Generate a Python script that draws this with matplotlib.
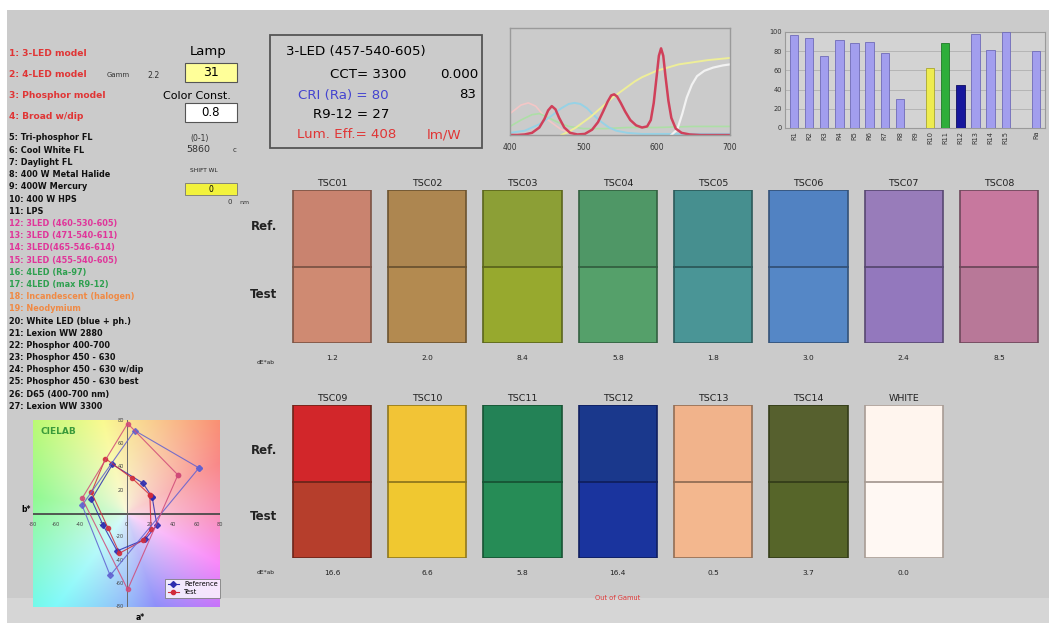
import numpy as np
import matplotlib
matplotlib.use("Agg")
import matplotlib.pyplot as plt
from matplotlib.patches import Rectangle
from matplotlib.lines import Line2D
from matplotlib.colors import hsv_to_rgb

plt.rcParams['font.family'] = ['DejaVu Sans']

W, H = 1049, 623

# ---------------- data ----------------
lamp_items = ["1: 3-LED model", "2: 4-LED model", "3: Phosphor model", "4: Broad w/dip",
              "5: Tri-phosphor FL", "6: Cool White FL", "7: Daylight FL", "8: 400 W Metal Halide",
              "9: 400W Mercury", "10: 400 W HPS", "11: LPS", "12: 3LED (460-530-605)",
              "13: 3LED (471-540-611)", "14: 3LED(465-546-614)", "15: 3LED (455-540-605)",
              "16: 4LED (Ra-97)", "17: 4LED (max R9-12)", "18: Incandescent (halogen)",
              "19: Neodymium", "20: White LED (blue + ph.)", "21: Lexion WW 2880",
              "22: Phosphor 400-700", "23: Phosphor 450 - 630", "24: Phosphor 450 - 630 w/dip",
              "25: Phosphor 450 - 630 best", "26: D65 (400-700 nm)", "27: Lexion WW 3300"]
lamp_groups = ["model"] * 4 + ["std"] * 7 + ["3led"] * 4 + ["4led"] * 2 + ["inc"] * 2 + ["std"] * 8

# spectrum (relative power)
wl_test = [400, 410, 420, 430, 440, 447, 452, 457, 462, 467, 474, 482, 492, 502, 512, 520, 527, 533,
           538, 542, 546, 551, 557, 564, 572, 580, 587, 592, 596, 600, 603, 606, 609, 612, 616, 620,
           626, 634, 645, 660, 680, 700]
spd_test = [0.0, 0.0, 0.005, 0.02, 0.07, 0.15, 0.23, 0.27, 0.24, 0.16, 0.07, 0.02, 0.005, 0.01, 0.05,
            0.12, 0.22, 0.31, 0.37, 0.38, 0.36, 0.30, 0.22, 0.14, 0.09, 0.07, 0.08, 0.14, 0.30, 0.55,
            0.74, 0.81, 0.74, 0.55, 0.32, 0.16, 0.06, 0.02, 0.005, 0.0, 0.0, 0.0]
wl_cyan = [400, 420, 440, 455, 470, 480, 488, 496, 505, 515, 525, 535, 545, 560, 580, 620, 700]
val_cyan = [0.02, 0.04, 0.10, 0.17, 0.25, 0.29, 0.30, 0.29, 0.25, 0.18, 0.12, 0.07, 0.04, 0.02, 0.01, 0.01, 0.01]
wl_green = [400, 415, 430, 440, 450, 465, 480, 500, 530, 560, 600, 650, 700]
val_green = [0.08, 0.14, 0.19, 0.20, 0.17, 0.12, 0.08, 0.06, 0.06, 0.07, 0.07, 0.08, 0.08]
wl_pink = [400, 415, 425, 435, 450, 470, 490]
val_pink = [0.20, 0.28, 0.30, 0.27, 0.15, 0.05, 0.0]
wl_yellow = [470, 480, 490, 500, 510, 520, 530, 540, 550, 560, 570, 580, 590, 600, 615, 630, 650, 670, 700]
val_yellow = [0.0, 0.03, 0.07, 0.12, 0.17, 0.23, 0.29, 0.35, 0.40, 0.45, 0.50, 0.54, 0.57, 0.60, 0.63,
              0.66, 0.68, 0.70, 0.72]
wl_white = [620, 628, 635, 641, 648, 655, 665, 677, 690, 700]
val_white = [0.0, 0.05, 0.20, 0.35, 0.47, 0.55, 0.60, 0.63, 0.65, 0.66]

# special CRI values
r_labels = ["R1", "R2", "R3", "R4", "R5", "R6", "R7", "R8", "R9", "R10", "R11", "R12", "R13", "R14", "R15", "Ra"]
r_values = [97, 94, 75, 92, 89, 90, 78, 30, 0, 63, 89, 45, 98, 81, 100, 80]
r_colors = ["#a29eee"] * 9 + ["#eeec50", "#2eae3a", "#16169c"] + ["#a29eee"] * 4

# test colour samples
tsc_row1 = ["TSC01", "TSC02", "TSC03", "TSC04", "TSC05", "TSC06", "TSC07", "TSC08"]
ref_row1 = ["#c9836f", "#ad8650", "#8c9f36", "#4f9766", "#468f8f", "#5182c2", "#987cba", "#c7789e"]
test_row1 = ["#cf8a72", "#b38a50", "#97a92e", "#55a06a", "#4a9596", "#5587c6", "#9378bd", "#b87898"]
de_row1 = ["1.2", "2.0", "8.4", "5.8", "1.8", "3.0", "2.4", "8.5"]
tsc_row2 = ["TSC09", "TSC10", "TSC11", "TSC12", "TSC13", "TSC14", "WHITE"]
ref_row2 = ["#d2262a", "#f2c436", "#238256", "#1a388c", "#f1b38b", "#56602e", "#fff5ee"]
test_row2 = ["#b63e2c", "#f0c830", "#268c56", "#1a349e", "#f3b78e", "#566529", "#fff8f3"]
de_row2 = ["16.6", "6.6", "5.8", "16.4", "0.5", "3.7", "0.0"]

# CIELAB a*, b* (TSC01-08 loop, TSC09-12 loop)
ref_a_in = [22, 14, -12, -30, -20, -8, 16, 26]
ref_b_in = [14, 26, 42, 12, -10, -32, -22, -10]
test_a_in = [20, 5, -18, -30, -16, -6, 14, 21]
test_b_in = [16, 30, 47, 18, -12, -34, -23, -13]
ref_a_out = [62, 7, -38, -14]
ref_b_out = [39, 71, 7, -53]
test_a_out = [44, 1, -38, 1]
test_b_out = [33, 77, 13, -65]

# ---------------- figure ----------------
fig = plt.figure(figsize=(W / 100, H / 100), dpi=100, facecolor="white")


def px_axes(x0, y0, x1, y1, **kw):
    return fig.add_axes([x0 / W, 1 - y1 / H, (x1 - x0) / W, (y1 - y0) / H], **kw)


bg = px_axes(0, 0, W, H)
bg.set_xlim(0, W)
bg.set_ylim(H, 0)
bg.axis("off")
bg.add_patch(Rectangle((7, 10), W - 7, H - 10, facecolor="#cbcbcb", edgecolor="none"))
bg.add_patch(Rectangle((7, 598), W - 7, H - 598, facecolor="#d6d6d6", edgecolor="none"))

# lamp list
group_col = {"model": "#e03535", "std": "#111111", "3led": "#e0359a", "4led": "#2fa050", "inc": "#f08a45"}
for i, (name, grp) in enumerate(zip(lamp_items, lamp_groups)):
    if i < 4:
        y = 53 + i * 21.3
        fs = 6.6
    else:
        y = 138 + (i - 4) * 12.2
        fs = 5.9
    bg.text(9, y, name, color=group_col[grp], fontsize=fs, fontweight="bold", va="center", ha="left")
bg.text(107, 75, "Gamm", fontsize=5.0, color="#333333", va="center")
bg.text(147, 75, "2.2", fontsize=5.6, color="#333333", va="center")

bg.text(208, 51, "Lamp", fontsize=9.5, va="center", ha="center")
bg.add_patch(Rectangle((185, 63), 52, 19, facecolor="#ffff99", edgecolor="#555555", lw=0.8))
bg.text(211, 73, "31", fontsize=9, va="center", ha="center")
bg.text(197, 96, "Color Const.", fontsize=8, va="center", ha="center")
bg.add_patch(Rectangle((185, 103), 52, 19, facecolor="white", edgecolor="#555555", lw=0.8))
bg.text(211, 113, "0.8", fontsize=8.5, va="center", ha="center")
bg.text(200, 138, "(0-1)", fontsize=5.5, color="#333333", va="center", ha="center")
bg.text(198, 149, "5860", fontsize=6.8, color="#333333", va="center", ha="center")
bg.text(235, 150, "c", fontsize=5, color="#333333", va="center", ha="center")
bg.text(204, 170, "SHIFT WL", fontsize=4.2, color="#222222", va="center", ha="center")
bg.add_patch(Rectangle((185, 183), 52, 12, facecolor="#f2f23c", edgecolor="#777777", lw=0.6))
bg.text(211, 189, "0", fontsize=5.5, va="center", ha="center")
bg.text(230, 202, "0", fontsize=5, va="center", ha="center", color="#333333")
bg.text(239, 202, "nm", fontsize=4.5, va="center", ha="left", color="#333333")

# info box
bg.add_patch(Rectangle((270, 35), 212, 113, facecolor="none", edgecolor="#555555", lw=1.3))
fs_info = 9.6
bg.text(286, 52, "3-LED (457-540-605)", fontsize=fs_info, va="center")
bg.text(330, 74, "CCT= 3300", fontsize=fs_info, va="center")
bg.text(478, 74, "0.000", fontsize=fs_info, va="center", ha="right")
bg.text(298, 95, "CRI (Ra) = 80", fontsize=fs_info, va="center", color="#4444d0")
bg.text(476, 95, "83", fontsize=fs_info, va="center", ha="right")
bg.text(313, 114, "R9-12 = 27", fontsize=fs_info, va="center")
bg.text(297, 135, "Lum. Eff.= 408", fontsize=fs_info, va="center", color="#e03535")
bg.text(427, 135, "lm/W", fontsize=fs_info, va="center", color="#e03535")

# ---------------- spectrum ----------------
sp = px_axes(510, 28, 730, 135)
sp.set_facecolor("none")
sp.plot(wl_pink, val_pink, color="#f3c6c6", lw=1.2)
sp.plot(wl_green, val_green, color="#addfa6", lw=1.2)
sp.plot(wl_cyan, val_cyan, color="#96d2e6", lw=1.4)
sp.plot(wl_yellow, val_yellow, color="#eeee98", lw=1.4)
sp.plot(wl_white, val_white, color="#f2f2f2", lw=1.6)
sp.plot(wl_test, spd_test, color="#d0405a", lw=1.8)
sp.set_xlim(400, 700)
sp.set_ylim(0, 1)
sp.set_xticks([400, 500, 600, 700])
sp.set_yticks([])
sp.tick_params(axis="x", labelsize=5.5, length=0, pad=6, colors="#333333")
for s in sp.spines.values():
    s.set_color("#9a9a9a")
    s.set_linewidth(1.0)

# ---------------- CRI bars ----------------
bx = px_axes(785, 32, 1045, 128)
bx.set_facecolor("#d3d3d3")
xpos = list(range(15)) + [16]
bx.bar(xpos, r_values, width=0.55, color=r_colors,
       edgecolor=["#6f6bb8"] * 9 + ["#a8a630", "#1d7a26", "#0c0c60"] + ["#6f6bb8"] * 4, lw=0.6, zorder=3)
bx.set_xlim(-0.6, 16.6)
bx.set_ylim(0, 100)
bx.set_yticks(range(0, 101, 20))
bx.set_xticks(xpos)
bx.set_xticklabels(r_labels, rotation=90)
bx.tick_params(labelsize=4.8, length=0, pad=2, colors="#333333")
bx.grid(axis="y", color="#b0b0b0", lw=0.6, zorder=0)
for s in bx.spines.values():
    s.set_color("#9a9a9a")
    s.set_linewidth(0.8)

# ---------------- swatches ----------------
def draw_row(y0, y1, names, refs, tests, des):
    ax = px_axes(284.3, y0, 1046.7, y1)
    ax.set_xlim(-0.5, 7.5)
    ax.set_ylim(0, 2)
    ax.axis("off")
    w = 0.82
    for i, (nm, rc, tc, d) in enumerate(zip(names, refs, tests, des)):
        edge = tuple(0.6 * np.array(matplotlib.colors.to_rgb(tc)))
        if nm == "WHITE":
            edge = "#a89c94"
        ax.add_patch(Rectangle((i - w / 2, 1), w, 1, facecolor=rc, edgecolor="none"))
        ax.add_patch(Rectangle((i - w / 2, 0), w, 1, facecolor=tc, edgecolor="none"))
        ax.add_patch(Rectangle((i - w / 2, 0), w, 2, facecolor="none", edgecolor=edge, lw=1.2))
        ax.plot([i - w / 2, i + w / 2], [1, 1], color=edge, lw=1.3)
        ax.text(i, 2.03, nm, ha="center", va="bottom", fontsize=6.8, color="#222222")
        ax.text(i, -0.2, d, ha="center", va="center", fontsize=5.3, color="#222222")
    return ax


draw_row(190, 343, tsc_row1, ref_row1, test_row1, de_row1)
draw_row(405, 558, tsc_row2, ref_row2, test_row2, de_row2)
for yr, yt, yd in [(227, 295, 362), (450, 517, 572)]:
    bg.text(264, yr, "Ref.", fontsize=8.5, fontweight="bold", ha="center", va="center", color="#222222")
    bg.text(264, yt, "Test", fontsize=8.5, fontweight="bold", ha="center", va="center", color="#222222")
    bg.text(266, yd, "dE*ab", fontsize=4.3, ha="center", va="center", color="#222222")
bg.text(618, 598, "Out of Gamut", fontsize=4.8, ha="center", va="center", color="#e03535")

# ---------------- CIELAB ----------------
lab = px_axes(33, 420, 220, 607)
n = 240
aa, bb = np.meshgrid(np.linspace(-80, 80, n), np.linspace(80, -80, n))
ang = np.degrees(np.arctan2(bb, aa)) % 360
hue = np.interp(ang, [0, 90, 180, 270, 360], [0.94, 1.13, 1.36, 1.60, 1.94]) % 1.0
rad = np.hypot(aa, bb)
sat = np.clip(0.12 + rad / 113 * 0.42, 0, 0.6)
val = np.full_like(aa, 0.98)
rgb = hsv_to_rgb(np.stack([hue, sat, val], axis=-1))
lab.imshow(rgb, extent=(-80, 80, -80, 80), aspect="auto", zorder=0)
lab.set_xlim(-80, 80)
lab.set_ylim(-80, 80)
lab.axis("off")
lab.axhline(0, color="#4a4a4a", lw=1.3, zorder=1)
lab.axvline(0, color="#6a6a6a", lw=0.7, zorder=1)
for t in range(-80, 81, 20):
    lab.text(t, -9, str(t), fontsize=3.6, ha="center", va="center", color="#444444", zorder=2)
    if t != 0:
        lab.text(-2, t, str(t), fontsize=3.6, ha="right", va="center", color="#444444", zorder=2)
lab.text(-74, 70, "CIELAB", fontsize=6.5, color="#3a9a3a", fontweight="bold", va="center", zorder=2)


def loop(xs, ys):
    return list(xs) + [xs[0]], list(ys) + [ys[0]]


for (ax_, ay_), col, mk in [((ref_a_in, ref_b_in), "#2c2cb0", "D"), ((test_a_in, test_b_in), "#d02c3c", "o")]:
    xl, yl = loop(ax_, ay_)
    lab.plot(xl, yl, color=col, lw=0.8, marker=mk, ms=3, mfc=col, mec=col, alpha=0.85, zorder=3)
for (ax_, ay_), col, mk in [((ref_a_out, ref_b_out), "#6060d0", "D"), ((test_a_out, test_b_out), "#d04a78", "o")]:
    xl, yl = loop(ax_, ay_)
    lab.plot(xl, yl, color=col, lw=0.8, marker=mk, ms=3, mfc=col, mec=col, alpha=0.85, zorder=3)
handles = [Line2D([], [], color="#2c2cb0", marker="D", ms=3, lw=0.8),
           Line2D([], [], color="#d02c3c", marker="o", ms=3, lw=0.8)]
leg = lab.legend(handles, ["Reference", "Test"], loc="lower left", bbox_to_anchor=(0.69, 0.03),
                 fontsize=4.8, frameon=True, fancybox=False, handlelength=1.6, borderpad=0.4,
                 labelspacing=0.3)
leg.get_frame().set_edgecolor("#777777")
leg.get_frame().set_linewidth(0.7)
leg.set_zorder(5)
bg.text(26, 510, "b*", fontsize=5.5, ha="center", va="center", fontweight="bold")
bg.text(140, 618, "a*", fontsize=5.5, ha="center", va="center", fontweight="bold")

fig.savefig("out.png", dpi=100, facecolor=fig.get_facecolor())
